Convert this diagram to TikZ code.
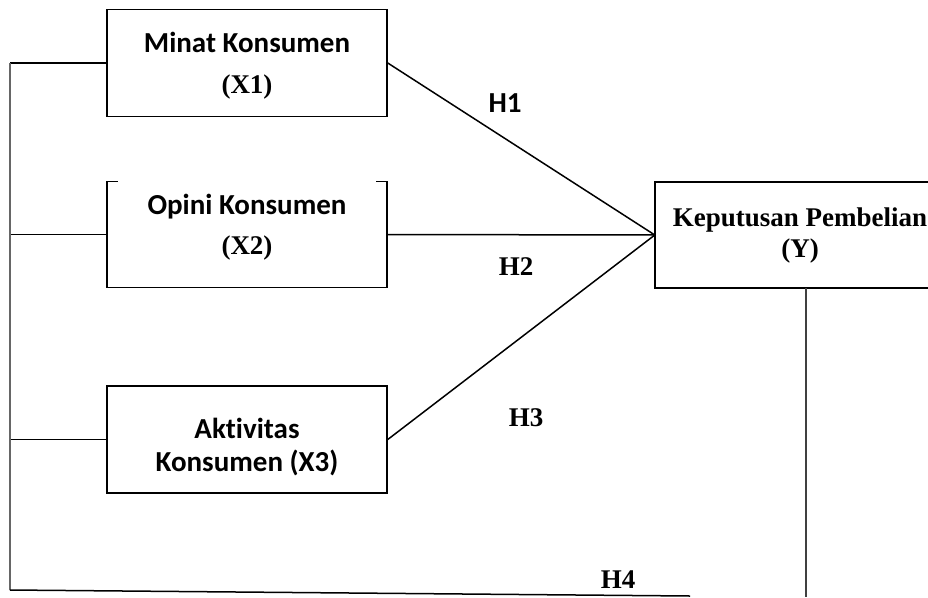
\documentclass[tikz,border=0pt]{standalone}
\usepackage{fontspec}
\setmainfont{Liberation Serif}
\newfontfamily\calfont[Ligatures=NoCommon]{Carlito}
\tikzset{
  box/.style={draw, line width=1.5pt, minimum width=280pt, minimum height=107pt, inner sep=0pt},
  openbox/.style={minimum width=280pt, minimum height=106pt, inner sep=0pt},
  conn/.style={line width=1.5pt},
  grayconn/.style={line width=1.8pt, draw=black!60},
  cal/.style={font=\calfont\bfseries\fontsize{29}{34}\selectfont, inner sep=0pt},
  tms/.style={font=\bfseries\fontsize{27}{32}\selectfont, inner sep=0pt},
}
\begin{document}
\begin{tikzpicture}[x=1pt,y=-1pt]
\useasboundingbox (0,0) rectangle (928,597);
% boxes
\node[box] (x1) at (247,63) {};
\node[openbox] (x2) at (247,234.5) {};
\node[box] (x3) at (247,439.5) {};
\node[openbox, minimum width=274pt] (y) at (792,235) {};
% X2 box with only corner stubs on top
\draw[conn] ([xshift=11pt]x2.north west) -- (x2.north west) -- (x2.south west) -- (x2.south east) -- (x2.north east) -- ([xshift=-11pt]x2.north east);
% Y box, open on the right (cut by page edge)
\draw[conn] (y.north east) -- (y.north west) -- (y.south west) -- (y.south east);
% texts
\node[cal] (t1a) at (247,42) {Minat Konsumen};
\node[tms] (t1b) at (247,87) {(X1)};
\node[cal] (t2a) at (247,207) {Opini Konsumen};
\node[tms] (t2b) at (247,248) {(X2)};
\node[cal] (t3a) at (247,428) {Aktivitas};
\node[cal] (t3b) at (247,463) {Konsumen (X3)};
\node[tms] (tya) at (800,220) {Keputusan Pembelian};
\node[tms] (tyb) at (800,251) {(Y)};
% hypothesis labels
\node[cal] (h1) at (505,103) {H1};
\node[tms] (h2) at (516,267) {H2};
\node[tms] (h3) at (526,418) {H3};
\node[tms] (h4) at (618,580) {H4};
% coordinates for the frame
\coordinate (ltop) at (10,63);
\coordinate (lmid) at (10,234.5);
\coordinate (llow) at (10,439.5);
\coordinate (lbot) at (10,590);
\coordinate (bend) at (690,596);
\coordinate (ybot) at (806,597);
\coordinate (ytop) at (806,288);
% connectors
\draw[conn] (x1.east) -- (y.west);
\draw[conn] (x2.east) -- (y.west);
\draw[conn] (x3.east) -- (y.west);
\draw[conn] (ltop) -- (x1.west);
\draw[conn] (lmid) -- (x2.west);
\draw[conn] (llow) -- (x3.west);
\draw[grayconn] (ltop) -- (lbot);
\draw[conn] (lbot) -- (bend);
\draw[grayconn, draw=black!75] (ytop) -- (ybot);
\end{tikzpicture}
\end{document}
